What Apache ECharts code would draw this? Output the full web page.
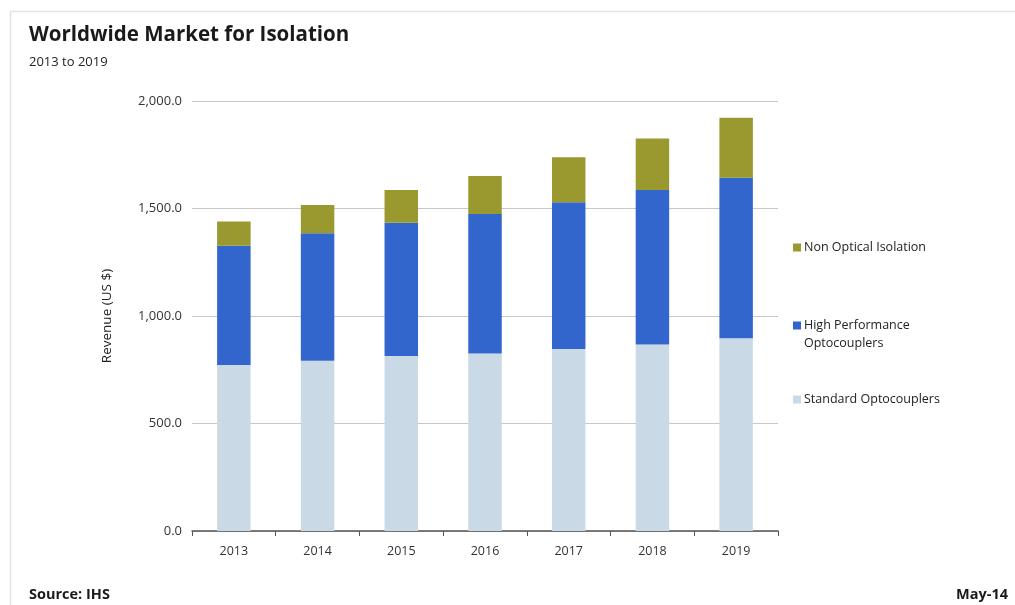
<!DOCTYPE html>
<html>
<head>
<meta charset="utf-8">
<script src="https://cdn.jsdelivr.net/npm/echarts@6/dist/echarts.min.js"></script>
<style>
html,body{margin:0;padding:0;background:#fff;}
#chart{width:1015px;height:605px;}
</style>
</head>
<body>
<div id="chart"></div>
<script>
var categories = ['2013','2014','2015','2016','2017','2018','2019'];
var standardOpto = [772, 792, 814, 826, 847, 868, 896];
var highPerfOpto = [555, 593, 620, 648, 682, 718, 747];
var nonOptical = [112, 131, 152, 177, 209, 240, 279];
var seriesNames = ['Standard Optocouplers', 'High Performance Optocouplers', 'Non Optical Isolation'];

var FONT = '"Open Sans", Lato, sans-serif';
var chart = echarts.init(document.getElementById('chart'), null, {renderer:'canvas'});

function legendItem(name, top) {
  return {
    data: [name],
    left: 788, top: top,
    orient: 'vertical',
    itemWidth: 8, itemHeight: 8, itemGap: 0,
    icon: 'rect',
    selectedMode: false,
    formatter: function (n) {
      return n === 'High Performance Optocouplers' ? 'High Performance' : n;
    },
    textStyle: {fontFamily: FONT, fontSize: 12.5, color: '#222', padding: [0,0,0,-2]}
  };
}

var option = {
  backgroundColor: '#fff',
  animation: false,
  textStyle: {fontFamily: FONT},
  title: [
    {text: 'Worldwide Market for Isolation', left: 24, top: 20,
     textStyle: {fontFamily: FONT, fontSize: 20.5, fontWeight: 'bold', color: '#1a1a1a'}},
    {text: '2013 to 2019', left: 24, top: 51,
     textStyle: {fontFamily: FONT, fontSize: 13, fontWeight: 'normal', color: '#222'}},
    {text: 'Source: IHS', left: 24, top: 582,
     textStyle: {fontFamily: FONT, fontSize: 14.5, fontWeight: 'bold', color: '#1a1a1a'}},
    {text: 'May-14', right: 2, top: 582,
     textStyle: {fontFamily: FONT, fontSize: 14.5, fontWeight: 'bold', color: '#1a1a1a'}}
  ],
  graphic: [
    {type: 'line', shape: {x1: 10, y1: 11.5, x2: 1015, y2: 11.5}, style: {stroke: '#e2e2e2', lineWidth: 1.5}},
    {type: 'line', shape: {x1: 10.5, y1: 11, x2: 10.5, y2: 605}, style: {stroke: '#e2e2e2', lineWidth: 1.5}},
    {type: 'text', left: 804, top: 337,
     style: {text: 'Optocouplers', font: '12.5px "Open Sans", Lato, sans-serif', fill: '#222'}}
  ],
  legend: [
    legendItem('Non Optical Isolation', 236),
    legendItem('High Performance Optocouplers', 314),
    legendItem('Standard Optocouplers', 388)
  ],
  grid: {left: 192, right: 237, top: 101, bottom: 74},
  xAxis: {
    type: 'category',
    data: categories,
    axisLine: {lineStyle: {color: '#555', width: 1.5}},
    axisTick: {show: true, alignWithLabel: false, length: 5, lineStyle: {color: '#555'}},
    axisLabel: {fontFamily: FONT, fontSize: 12.5, color: '#333', margin: 14}
  },
  yAxis: {
    type: 'value',
    min: 0, max: 2000, interval: 500,
    name: 'Revenue (US $)',
    nameLocation: 'middle',
    nameGap: 78,
    nameTextStyle: {fontFamily: FONT, fontSize: 13.5, color: '#222'},
    axisLine: {show: false},
    axisTick: {show: false},
    splitLine: {lineStyle: {color: '#c8c8c8', width: 1}},
    axisLabel: {
      fontFamily: FONT, fontSize: 13, color: '#333', margin: 10,
      formatter: function (v) {
        return v.toLocaleString('en-US', {minimumFractionDigits: 1, maximumFractionDigits: 1});
      }
    }
  },
  series: [
    {name: seriesNames[0], type: 'bar', stack: 'a', data: standardOpto, barWidth: '40%',
     itemStyle: {color: '#c9dae6'}},
    {name: seriesNames[1], type: 'bar', stack: 'a', data: highPerfOpto, barWidth: '40%',
     itemStyle: {color: '#3366cc'}},
    {name: seriesNames[2], type: 'bar', stack: 'a', data: nonOptical, barWidth: '40%',
     itemStyle: {color: '#999930'}}
  ]
};
chart.setOption(option);
</script>
</body>
</html>
